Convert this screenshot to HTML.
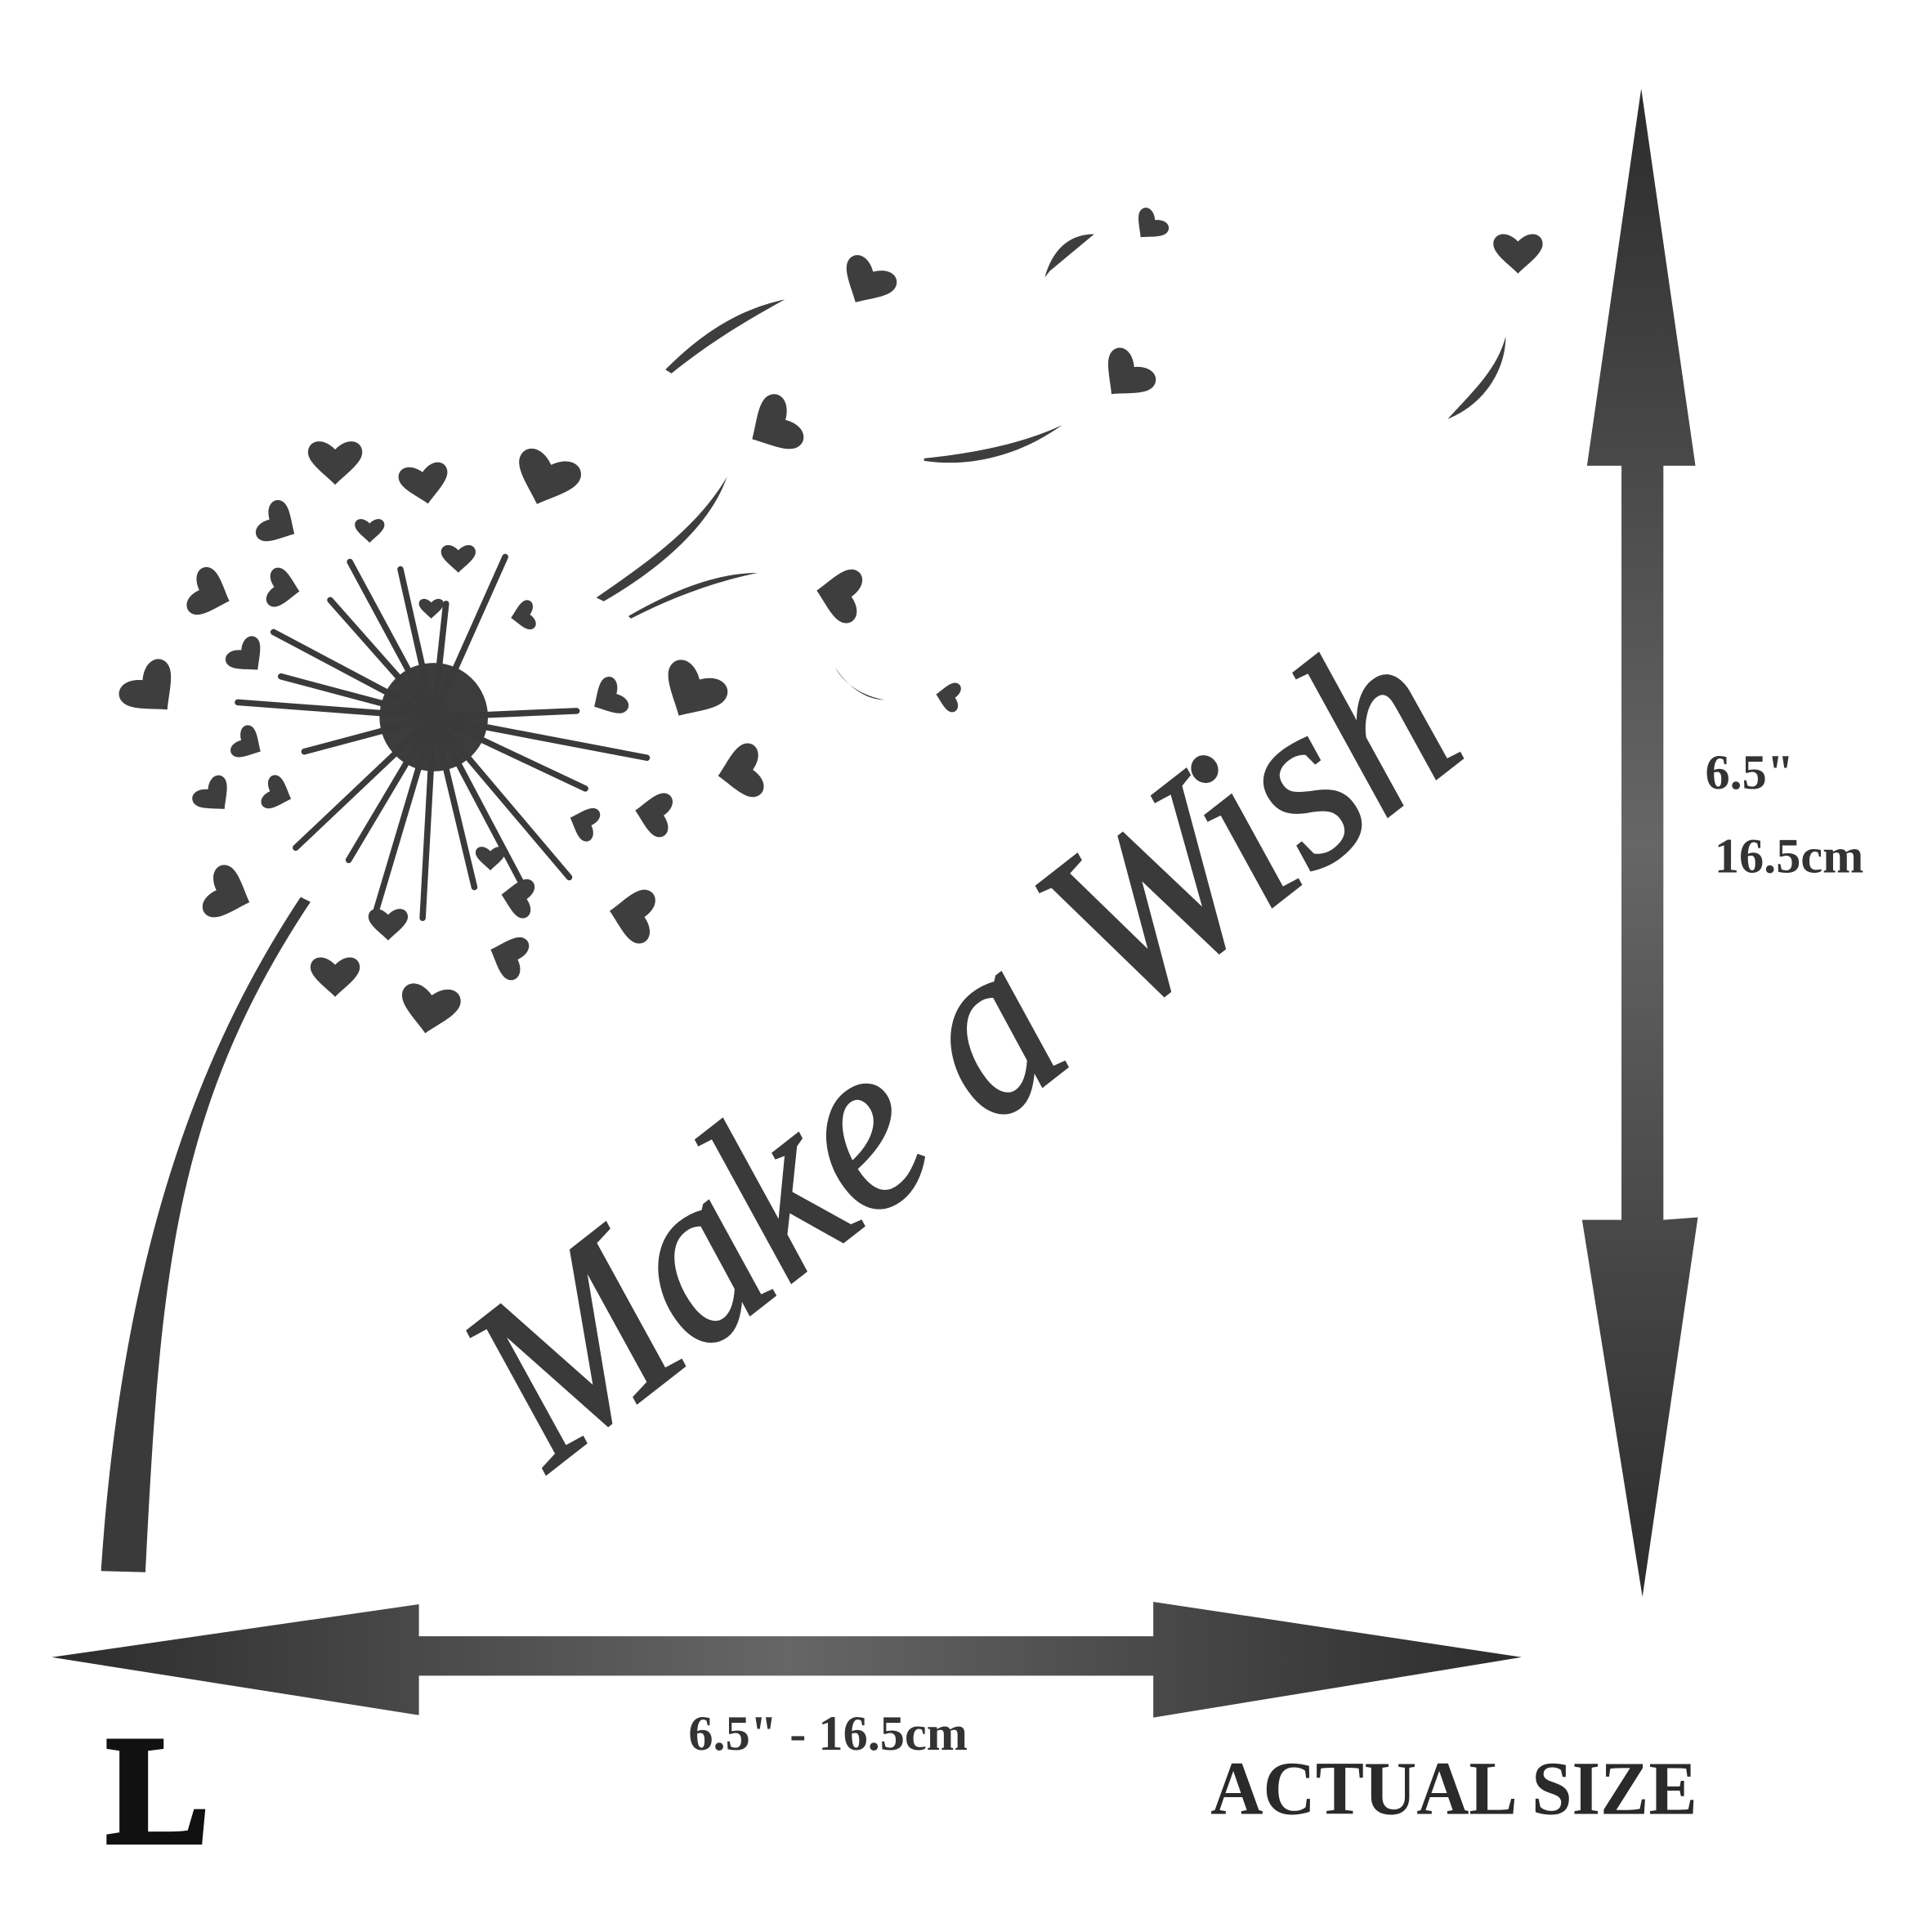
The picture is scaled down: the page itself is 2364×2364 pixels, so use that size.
<!DOCTYPE html>
<html><head><meta charset="utf-8"><style>
html,body{margin:0;padding:0;background:#fff;}
svg{display:block;}
</style></head><body>
<svg width="2364" height="2364" viewBox="0 0 1568 1568" xmlns="http://www.w3.org/2000/svg">
<defs>
<radialGradient id="g" cx="0.5" cy="0.5" r="0.6"><stop offset="0" stop-color="#5a5a5a"/><stop offset="1" stop-color="#2e2e2e"/></radialGradient>
<linearGradient id="gv" x1="0" y1="0" x2="0" y2="1"><stop offset="0" stop-color="#2c2c2c"/><stop offset="0.5" stop-color="#666"/><stop offset="1" stop-color="#2c2c2c"/></linearGradient>
<linearGradient id="gh" x1="0" y1="0" x2="1" y2="0"><stop offset="0" stop-color="#2c2c2c"/><stop offset="0.5" stop-color="#666"/><stop offset="1" stop-color="#2c2c2c"/></linearGradient>
<path id="h" d="M0,14 C-8,6 -20,-2 -20,-10 C-20,-18 -10,-22 0,-12 C10,-22 20,-18 20,-10 C20,-2 8,6 0,14Z"/>
</defs>
<path d="M1332,72 L1376,378 L1350,378 L1350,990 L1378,988 L1333,1296 L1284,990 L1316,990 L1316,378 L1288,378 Z" fill="url(#gv)"/>
<path d="M42,1345 L340,1302 L340,1328 L936,1328 L936,1300 L1235,1345 L936,1394 L936,1360 L340,1360 L340,1392 Z" fill="url(#gh)"/>
<g font-family="'Liberation Serif',serif" font-weight="bold" fill="#333">
<text x="1420" y="640" font-size="40" text-anchor="middle">6.5"</text>
<text x="1452" y="708" font-size="40" text-anchor="middle">16.5cm</text>
<text x="672" y="1420" font-size="40" text-anchor="middle">6.5" - 16.5cm</text>
<text x="1180" y="1472" font-size="62" text-anchor="middle" fill="#2a2a2a" textLength="395" lengthAdjust="spacingAndGlyphs">ACTUAL SIZE</text>
<text x="128" y="1495" font-size="125" text-anchor="middle" fill="#111" stroke="#111" stroke-width="4">L</text>
</g>
<g fill="url(#g)">
<path d="M244,728 C170,840 100,1000 82,1275 L118,1276 C130,1040 140,900 252,732 Z" fill="#3a3a3a"/>
<circle cx="352" cy="582" r="44" fill="#3c3c3c"/>
<g stroke="#3a3a3a" stroke-width="5" stroke-linecap="round">
<line x1="352" y1="582" x2="410" y2="452"/><line x1="352" y1="582" x2="325" y2="462"/>
<line x1="352" y1="582" x2="284" y2="456"/><line x1="352" y1="582" x2="268" y2="487"/>
<line x1="352" y1="582" x2="222" y2="513"/><line x1="352" y1="582" x2="228" y2="549"/>
<line x1="352" y1="582" x2="193" y2="570"/><line x1="352" y1="582" x2="247" y2="610"/>
<line x1="352" y1="582" x2="240" y2="688"/><line x1="352" y1="582" x2="283" y2="698"/>
<line x1="352" y1="582" x2="343" y2="745"/><line x1="352" y1="582" x2="385" y2="720"/>
<line x1="352" y1="582" x2="462" y2="712"/><line x1="352" y1="582" x2="475" y2="640"/>
<line x1="352" y1="582" x2="525" y2="615"/><line x1="352" y1="582" x2="468" y2="577"/>
<line x1="352" y1="582" x2="362" y2="490"/><line x1="352" y1="582" x2="305" y2="740"/>
<line x1="352" y1="582" x2="425" y2="720"/>
</g>
<g fill="#3e3e3e">
<use href="#h" transform="translate(272,378) scale(1.1)"/>
<use href="#h" transform="translate(345,395) scale(1) rotate(-10)"/>
<use href="#h" transform="translate(442,392) scale(1.3) rotate(20)"/>
<use href="#h" transform="translate(228,427) scale(0.9) rotate(-60)"/>
<use href="#h" transform="translate(300,432) scale(0.6)"/>
<use href="#h" transform="translate(372,455) scale(0.7)"/>
<use href="#h" transform="translate(173,483) scale(1) rotate(-70)"/>
<use href="#h" transform="translate(232,478) scale(0.8) rotate(-80)"/>
<use href="#h" transform="translate(202,535) scale(0.8) rotate(-40)"/>
<use href="#h" transform="translate(125,563) scale(1.2) rotate(-40)"/>
<use href="#h" transform="translate(203,605) scale(0.7) rotate(-60)"/>
<use href="#h" transform="translate(175,648) scale(0.8) rotate(-40)"/>
<use href="#h" transform="translate(227,645) scale(0.7) rotate(-70)"/>
<use href="#h" transform="translate(188,727) scale(1.1) rotate(-70)"/>
<use href="#h" transform="translate(423,500) scale(0.6) rotate(80)"/>
<use href="#h" transform="translate(350,495) scale(0.5)"/>
<use href="#h" transform="translate(492,568) scale(0.8) rotate(60)"/>
<use href="#h" transform="translate(560,565) scale(1.3) rotate(30)"/>
<use href="#h" transform="translate(598,627) scale(1.1) rotate(80)"/>
<use href="#h" transform="translate(528,660) scale(0.9) rotate(100)"/>
<use href="#h" transform="translate(472,667) scale(0.7) rotate(110)"/>
<use href="#h" transform="translate(418,728) scale(0.8) rotate(100)"/>
<use href="#h" transform="translate(510,742) scale(1.1) rotate(100)"/>
<use href="#h" transform="translate(410,775) scale(0.9) rotate(110)"/>
<use href="#h" transform="translate(315,752) scale(0.8)"/>
<use href="#h" transform="translate(272,795) scale(1)"/>
<use href="#h" transform="translate(348,822) scale(1.2) rotate(10)"/>
<use href="#h" transform="translate(398,698) scale(0.6)"/>
<use href="#h" transform="translate(702,232) scale(1.1) rotate(30)"/>
<use href="#h" transform="translate(625,348) scale(1.2) rotate(60)"/>
<use href="#h" transform="translate(912,308) scale(1.1) rotate(40)"/>
<use href="#h" transform="translate(932,185) scale(0.7) rotate(40)"/>
<use href="#h" transform="translate(1232,208) scale(1)"/>
<use href="#h" transform="translate(678,482) scale(1.1) rotate(100)"/>
<use href="#h" transform="translate(768,565) scale(0.6) rotate(100)"/>
</g>
<g fill="#3e3e3e">
<path d="M540,300 C575,265 605,250 637,243 C610,258 580,275 545,303 Z"/>
<path d="M484,485 C520,460 565,430 590,387 C575,430 530,465 490,488 Z"/>
<path d="M510,500 C545,480 580,465 615,465 C580,472 545,485 512,502 Z"/>
<path d="M750,372 C790,368 830,360 862,345 C830,368 790,380 750,374 Z"/>
<path d="M848,225 C855,200 870,190 888,190 L852,220 Z"/>
<path d="M1175,340 C1205,328 1222,300 1222,273 C1215,300 1195,318 1175,340 Z"/>
<path d="M678,542 C690,560 705,568 718,568 C700,565 685,555 678,542 Z"/>
</g>
</g>
<text x="0" y="0" transform="translate(445,1195) rotate(-38)" font-family="'Liberation Serif',serif" font-style="italic" font-size="200" fill="#3a3a3a" stroke="#3a3a3a" stroke-width="2" textLength="950" lengthAdjust="spacingAndGlyphs">Make a Wish</text>
</svg>
</body></html>
